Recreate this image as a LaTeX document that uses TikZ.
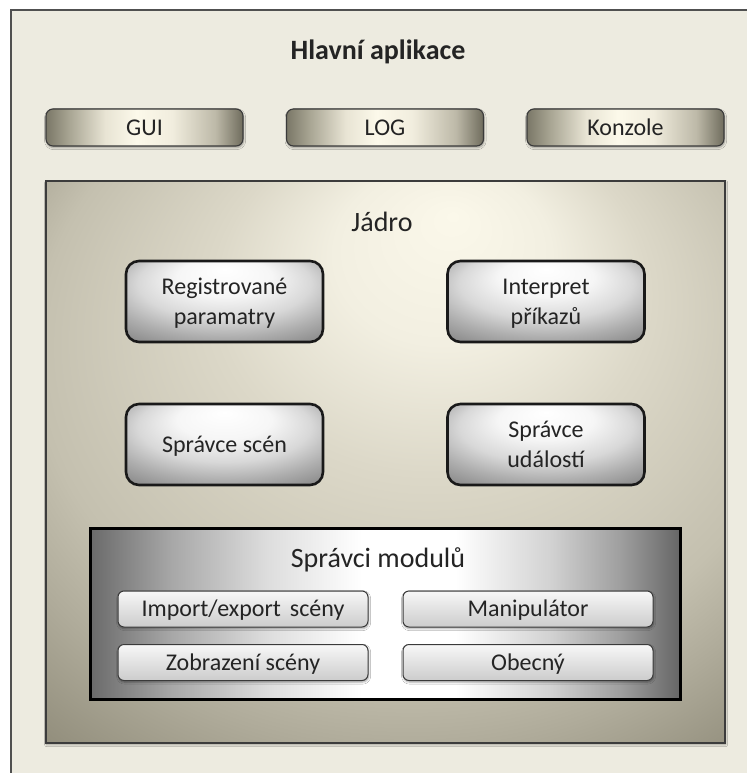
\documentclass[tikz,border=0pt]{standalone}
\usepackage{fontspec}
\setmainfont{Carlito}
\usetikzlibrary{shadows.blur}

% palette
\definecolor{pagebg}{HTML}{EDEBE0}
\definecolor{framecol}{HTML}{505050}
\definecolor{textcol}{HTML}{242424}
\definecolor{barline}{HTML}{3A3A3A}
\definecolor{coreline}{HTML}{3C3C3C}
% bar gradient
\definecolor{bA}{HTML}{7A7767}
\definecolor{bB}{HTML}{A9A694}
\definecolor{bC}{HTML}{E8E4D4}
\definecolor{bD}{HTML}{FCF9EA}
\definecolor{bE}{HTML}{F1EDDE}
\definecolor{bF}{HTML}{BDB9A8}
\definecolor{bG}{HTML}{6F6C5D}
% core gradient
\definecolor{jA}{HTML}{FBF8EA}
\definecolor{jB}{HTML}{F2EFE1}
\definecolor{jC}{HTML}{DCD8C8}
\definecolor{jD}{HTML}{C4C0AF}
\definecolor{jE}{HTML}{AFAB9A}
\definecolor{jF}{HTML}{8B8775}
\definecolor{jG}{HTML}{757161}
% grey unit gradient
\definecolor{gA}{HTML}{FFFFFF}
\definecolor{gB}{HTML}{F6F6F6}
\definecolor{gC}{HTML}{D8D8D8}
\definecolor{gD}{HTML}{AEAEAE}
\definecolor{gE}{HTML}{888888}
\definecolor{gF}{HTML}{6A6A6A}
% module frame gradient
\definecolor{mA}{HTML}{6A6A6A}
\definecolor{mB}{HTML}{A8A8A8}
\definecolor{mC}{HTML}{DDDDDD}
\definecolor{mD}{HTML}{FFFFFF}
\definecolor{mE}{HTML}{D2D2D2}
\definecolor{mF}{HTML}{9E9E9E}
\definecolor{mG}{HTML}{666666}

\pgfdeclarehorizontalshading{barshade}{100bp}{%
  color(0bp)=(bA); color(25bp)=(bA); color(31bp)=(bB); color(40bp)=(bC);
  color(48bp)=(bD); color(57bp)=(bE); color(68bp)=(bF); color(75bp)=(bG);
  color(100bp)=(bG)}
\pgfdeclareradialshading{coreshade}{\pgfpoint{5bp}{22bp}}{%
  color(0bp)=(jA); color(8bp)=(jB); color(16bp)=(jC); color(28bp)=(jD);
  color(33bp)=(jE); color(41bp)=(jF); color(50bp)=(jG)}
\pgfdeclareradialshading{unitshade}{\pgfpoint{0bp}{20bp}}{%
  color(0bp)=(gA); color(12bp)=(gB); color(22bp)=(gC); color(30bp)=(gD);
  color(38bp)=(gE); color(50bp)=(gF)}
\pgfdeclarehorizontalshading{modshade}{100bp}{%
  color(0bp)=(mA); color(25bp)=(mA); color(32bp)=(mB); color(40bp)=(mC);
  color(48bp)=(mD); color(56bp)=(mD); color(64bp)=(mE); color(70bp)=(mF);
  color(75bp)=(mG); color(100bp)=(mG)}

\begin{document}
\begin{tikzpicture}[x=1pt,y=-1pt,
  every node/.style={text=textcol, inner sep=0pt},
  softshadow/.style={blur shadow={shadow xshift=0.6pt, shadow yshift=-1.6pt,
      shadow blur radius=2pt, shadow blur steps=6, shadow opacity=35}},
  body/.style={font=\fontsize{24}{30}\selectfont},
  oneline/.style={body, text height=15.5pt, text depth=0pt},
  twoline/.style={body, align=center, text height=45.5pt, text depth=0pt},
  bar/.style={oneline, minimum width=197pt, minimum height=37pt,
      rounded corners=7pt, draw=barline, line width=1.1pt,
      shading=barshade, softshadow},
  corebox/.style={minimum width=679pt, minimum height=562pt,
      draw=coreline, line width=1.4pt, shading=coreshade, softshadow},
  unit/.style={minimum width=197pt, minimum height=81pt,
      rounded corners=13pt, draw=black!90, line width=2.6pt,
      shading=unitshade},
  modframe/.style={minimum width=590pt, minimum height=171pt,
      draw=black, line width=3pt, shading=modshade},
  modbox/.style={oneline, minimum width=250pt, minimum height=36pt,
      rounded corners=6pt, draw=barline, line width=1pt,
      top color=white!97!black, bottom color=white!80!black, softshadow},
  biglabel/.style={font=\fontsize{28}{32}\selectfont},
  titlelabel/.style={font=\bfseries\fontsize{28}{32}\selectfont}]

\useasboundingbox (0,0) rectangle (747,773);
\fill[white] (0,0) rectangle (747,773);

% application frame, open to the right and below
\fill[pagebg] (11,10) rectangle (747,773);
\draw[framecol, line width=1.2pt] (11,773) -- (11,10) -- (747,10);

\node[titlelabel] (app) at (378,52) {Hlavní aplikace};

% front-end components
\node[bar] (gui) at (144.5,127.5) {GUI};
\node[bar] (log) at (385,127.5) {LOG};
\node[bar] (konzole) at (625.5,127.5) {Konzole};

% core
\node[corebox] (jadro) at (385.5,462) {};
\node[biglabel] (jadrolbl) at (382,222) {Jádro};

\node[unit, twoline] (reg) at (224.5,301.5) {Registrované\\paramatry};
\node[unit, twoline] (interp) at (546,301.5) {Interpret\\příkazů};
\node[unit, oneline] (scen) at (224.5,444.5) {Správce scén};
\node[unit, twoline] (udal) at (546,444.5) {Správce\\událostí};

% module managers
\node[modframe] (moduly) at (385,613.5) {};
\node[biglabel] (modlbl) at (378,560) {Správci modulů};
\node[modbox] (imp) at (243,609) {Import/export\hspace{0.15em} scény};
\node[modbox] (manip) at (528,609) {Manipulátor};
\node[modbox] (zobr) at (243,662.5) {Zobrazení scény};
\node[modbox] (obec) at (528,662.5) {Obecný};
\end{tikzpicture}
\end{document}
